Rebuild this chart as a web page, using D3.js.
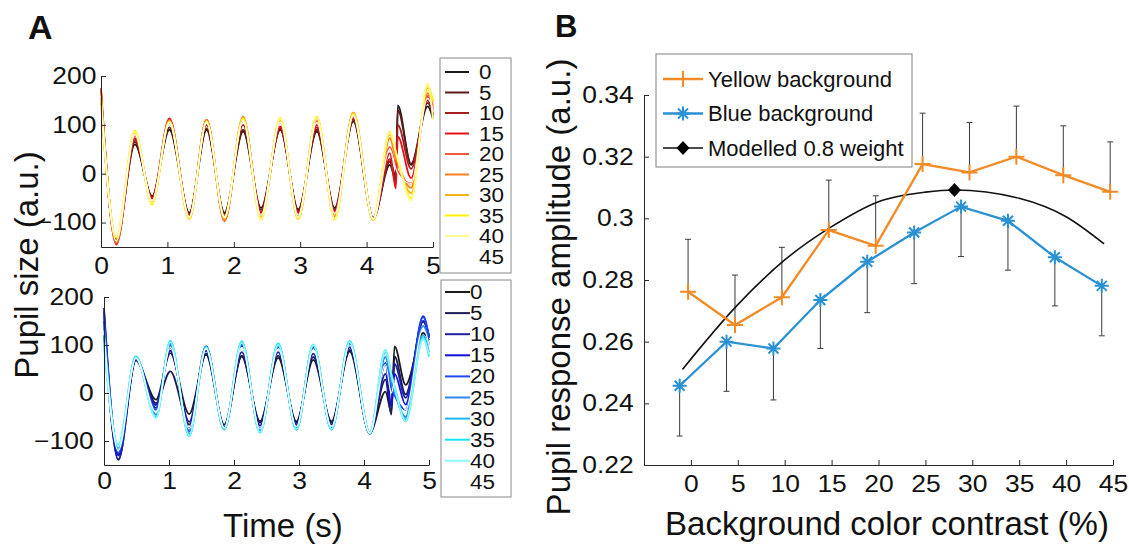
<!DOCTYPE html>
<html>
<head>
<meta charset="utf-8">
<script src="https://cdn.jsdelivr.net/npm/d3@7"></script>
<style>
  body { margin: 0; background: #fff; }
  text { font-family: "Liberation Sans", Arial, Helvetica, sans-serif; fill: #111; }
</style>
</head>
<body>
<svg id="chart" width="1129" height="546"></svg>
<script>
// ---------- data ----------

// contrast levels (legend entries, x ticks of panel B)
var contrasts = [0, 5, 10, 15, 20, 25, 30, 35, 40, 45];

// panel A, yellow background: key points (peaks / troughs) of each trace
var topTimes = [0, 0.23, 0.51, 0.77, 1.03, 1.33, 1.59, 1.86, 2.14, 2.41, 2.70, 2.97, 3.25, 3.52, 3.80, 4.10, 4.35, 4.44, 4.47, 4.67, 4.92, 5.0];
var topCurves = [
  [150, -135, 60, -46, 90, -80, 90, -80, 86, -70, 90, -73, 86, -70, 107, -90, 18, -12, 140, 18, 138, 112],
  [160, -138, 65, -48, 95, -82, 93, -82, 90, -74, 92, -76, 90, -73, 110, -92, 25, -5, 130, 20, 145, 118],
  [165, -140, 70, -50, 105, -84, 100, -86, 100, -78, 95, -78, 95, -76, 112, -92, 30, -20, 100, 10, 150, 122],
  [175, -145, 73, -50, 113, -87, 110, -95, 110, -80, 97, -80, 100, -77, 117, -92, 42, -30, 76, -9, 158, 130],
  [170, -143, 78, -55, 110, -88, 110, -97, 112, -85, 105, -85, 108, -82, 120, -93, 55, 15, 5, -20, 160, 135],
  [165, -140, 83, -58, 108, -92, 110, -95, 117, -88, 110, -92, 114, -88, 125, -94, 73, 30, 20, -29, 165, 140],
  [160, -137, 85, -60, 107, -92, 107, -92, 115, -90, 112, -92, 116, -92, 125, -95, 80, 40, 25, -40, 175, 148],
  [150, -131, 88, -63, 107, -92, 107, -90, 112, -94, 114, -92, 117, -94, 122, -95, 86, 45, 30, -50, 182, 150],
  [140, -128, 85, -60, 105, -90, 105, -88, 110, -92, 112, -90, 115, -92, 120, -93, 84, 45, 30, -55, 185, 110],
  [160, -138, 80, -55, 105, -88, 105, -90, 108, -85, 105, -85, 105, -82, 118, -92, 50, 10, 0, -20, 155, 130]
];
var topColors = ["#1a1a1a", "#5c1a1a", "#a31f24", "#e3121b", "#f25a38", "#f77f1e", "#fcb316", "#fff200", "#fffb8c", "#ffffff"];

// panel A, blue background
var bottomTimes = [0, 0.22, 0.49, 0.80, 1.02, 1.31, 1.57, 1.85, 2.12, 2.40, 2.68, 2.96, 3.22, 3.50, 3.78, 4.09, 4.33, 4.42, 4.47, 4.64, 4.91, 5.0];
var bottomCurves = [
  [120, -128, 69, -14, 83, -44, 80, -66, 76, -59, 73, -59, 69, -59, 87, -83, 3, -40, 97, 17, 125, 110],
  [150, -139, 68, -21, 45, -66, 82, -70, 78, -62, 78, -62, 75, -62, 90, -83, 28, -45, 76, -3, 149, 120],
  [170, -139, 70, -25, 88, -60, 88, -72, 85, -68, 85, -66, 82, -66, 95, -84, 40, -30, 60, -10, 150, 118],
  [177, -130, 72, -31, 95, -75, 97, -72, 98, -75, 95, -70, 95, -72, 100, -84, 62, -25, 40, -24, 160, 115],
  [160, -125, 74, -35, 101, -80, 97, -74, 101, -78, 97, -72, 97, -74, 104, -85, 62, 10, -5, -35, 158, 118],
  [140, -120, 75, -45, 104, -85, 95, -76, 104, -80, 100, -76, 99, -76, 106, -85, 75, 20, 0, -50, 140, 100],
  [120, -115, 76, -50, 107, -88, 95, -76, 106, -82, 102, -76, 100, -76, 108, -85, 85, 35, 10, -55, 120, 85],
  [100, -108, 76, -52, 109, -90, 96, -75, 108, -83, 104, -76, 101, -76, 108, -83, 90, 40, 15, -59, 115, 76],
  [95, -110, 74, -52, 106, -88, 94, -74, 105, -82, 100, -75, 100, -75, 106, -83, 88, 38, 12, -58, 112, 80],
  [130, -120, 72, -40, 95, -75, 92, -72, 95, -75, 92, -70, 90, -70, 100, -84, 60, 0, 20, -35, 135, 100]
];
var bottomColors = ["#1a1a1a", "#1c1c55", "#1f1f9e", "#1010d8", "#1e4bf0", "#2d86e8", "#1fb6f0", "#15e6f6", "#8ff6fb", "#ffffff"];

var timeTicks = [0, 1, 2, 3, 4, 5];
var sizeTicks = [-100, 0, 100, 200];

// panel B
var yellowShift = -0.3;   // points are plotted slightly left of the tick
var blueShift = -1.2;
var yellowAmp = [0.2762, 0.2654, 0.2744, 0.2962, 0.2911, 0.3176, 0.3149, 0.3200, 0.3140, 0.3086];
var yellowErr = [0.0170, 0.0162, 0.0162, 0.0162, 0.0162, 0.0165, 0.0162, 0.0164, 0.0160, 0.0162];
var blueAmp = [0.2457, 0.2600, 0.2578, 0.2735, 0.2859, 0.2954, 0.3038, 0.2992, 0.2874, 0.2781];
var blueErr = [0.0163, 0.0161, 0.0167, 0.0157, 0.0165, 0.0166, 0.0162, 0.0160, 0.0158, 0.0162];
var modelX = [-0.9, 5, 10, 15, 20, 25, 28.1, 35, 40, 44.05];
var modelY = [0.2510, 0.2720, 0.2865, 0.2973, 0.3054, 0.3085, 0.3092, 0.3065, 0.3005, 0.2917];
var modelPeak = [28.1, 0.3092];
var ampTicks = [0.22, 0.24, 0.26, 0.28, 0.30, 0.32, 0.34];
var legendB = ["Yellow background", "Blue background", "Modelled 0.8 weight"];

// ---------- drawing ----------
var svg = d3.select("#chart");
var axisColor = "#262626";
var numStretch = "scale(1.15,1)";

function styleAxis(g) {
  g.select(".domain").attr("stroke", axisColor);
  g.selectAll(".tick line").attr("stroke", axisColor);
  g.selectAll(".tick text")
    .attr("fill", "#111")
    .attr("font-family", "Liberation Sans, Arial, sans-serif")
    .attr("transform", numStretch);
}

function drawPupil(o) {
  var x = d3.scaleLinear().domain([0, 5]).range(o.xr);
  var y = d3.scaleLinear().domain([-150, 200]).range(o.yr);
  var g = svg.append("g");

  var line = d3.line()
    .x(function(d) { return x(d[0]); })
    .y(function(d) { return y(d[1]); })
    .curve(d3.curveMonotoneX);

  o.curves.forEach(function(vals, i) {
    var pts = o.times.map(function(t, j) { return [t, vals[j]]; });
    g.append("path")
      .attr("d", line(pts))
      .attr("fill", "none")
      .attr("stroke", o.colors[i])
      .attr("stroke-width", i == 9 ? 1.1 : 1.8);
  });

  var gx = g.append("g")
    .attr("transform", "translate(0," + o.yr[0] + ")")
    .call(d3.axisBottom(x).tickValues(timeTicks).tickSizeInner(-5).tickSizeOuter(0).tickPadding(o.xpad).tickFormat(d3.format("d")))
    .attr("font-size", 23);
  styleAxis(gx);

  var gy = g.append("g")
    .attr("transform", "translate(" + o.xr[0] + ",0)")
    .call(d3.axisLeft(y).tickValues(sizeTicks).tickSizeInner(-5).tickSizeOuter(0).tickPadding(o.ypad).tickFormat(d3.format("d")))
    .attr("font-size", 23);
  styleAxis(gy);

  // legend
  var lg = g.append("g");
  lg.append("rect")
    .attr("x", o.box[0]).attr("y", o.box[1])
    .attr("width", o.box[2] - o.box[0]).attr("height", o.box[3] - o.box[1])
    .attr("fill", "#fff").attr("stroke", "#888").attr("stroke-width", 1);
  contrasts.forEach(function(c, i) {
    var yy = o.ly0 + i * o.lstep;
    lg.append("line")
      .attr("x1", o.lx[0]).attr("x2", o.lx[1])
      .attr("y1", yy).attr("y2", yy)
      .attr("stroke", o.colors[i]).attr("stroke-width", 2);
    lg.append("text")
      .attr("transform", "translate(" + o.lx[2] + "," + yy + ") " + "scale(1.15,1)")
      .attr("dy", "0.36em")
      .attr("font-size", 19.5)
      .text(c);
  });
}

drawPupil({
  xr: [101, 433], yr: [247, 76], times: topTimes, curves: topCurves, colors: topColors,
  xpad: 11, ypad: 4, box: [440, 58, 511, 273], lx: [445, 469, 479], ly0: 72, lstep: 20.5
});
drawPupil({
  xr: [104, 429], yr: [465, 297], times: bottomTimes, curves: bottomCurves, colors: bottomColors,
  xpad: 8, ypad: 9, box: [441, 280, 511, 497], lx: [445, 470, 470], ly0: 292, lstep: 21.1
});

svg.append("text").attr("x", 283).attr("y", 537).attr("text-anchor", "middle")
  .attr("font-size", 33).text("Time (s)");
svg.append("text").attr("transform", "translate(38,265) rotate(-90)").attr("text-anchor", "middle")
  .attr("font-size", 33).text("Pupil size (a.u.)");
svg.append("text").attr("x", 28).attr("y", 39).attr("font-size", 34).attr("font-weight", "bold").text("A");
svg.append("text").attr("x", 555).attr("y", 37).attr("font-size", 31).attr("font-weight", "bold").text("B");

// ---------- panel B ----------
var xB = d3.scaleLinear().domain([-5, 45]).range([644, 1113]);
var yB = d3.scaleLinear().domain([0.22, 0.34]).range([465, 95]);
var gB = svg.append("g");
var orange = "#f28a26", blue = "#2a91d3";

// error bars: yellow upward, blue downward
function errBars(vals, errs, shift, dir) {
  vals.forEach(function(v, i) {
    var cx = xB(contrasts[i] + shift);
    var y0 = yB(v), y1 = yB(v + dir * errs[i]);
    gB.append("line").attr("x1", cx).attr("x2", cx).attr("y1", y0).attr("y2", y1)
      .attr("stroke", "#3a3a3a").attr("stroke-width", 1);
    gB.append("line").attr("x1", cx - 3).attr("x2", cx + 3).attr("y1", y1).attr("y2", y1)
      .attr("stroke", "#3a3a3a").attr("stroke-width", 1);
  });
}
errBars(yellowAmp, yellowErr, yellowShift, 1);
errBars(blueAmp, blueErr, blueShift, -1);

var lineB = d3.line().x(function(d) { return xB(d[0]); }).y(function(d) { return yB(d[1]); });

gB.append("path")
  .attr("d", lineB.curve(d3.curveMonotoneX)(modelX.map(function(v, i) { return [v, modelY[i]]; })))
  .attr("fill", "none").attr("stroke", "#111").attr("stroke-width", 1.6);

lineB.curve(d3.curveLinear);
gB.append("path")
  .attr("d", lineB(yellowAmp.map(function(v, i) { return [contrasts[i] + yellowShift, v]; })))
  .attr("fill", "none").attr("stroke", orange).attr("stroke-width", 2.3);
gB.append("path")
  .attr("d", lineB(blueAmp.map(function(v, i) { return [contrasts[i] + blueShift, v]; })))
  .attr("fill", "none").attr("stroke", blue).attr("stroke-width", 2.3);

function plusMark(g, cx, cy) {
  g.append("path")
    .attr("d", "M" + (cx - 8) + "," + cy + "H" + (cx + 8) + "M" + cx + "," + (cy - 8) + "V" + (cy + 8))
    .attr("stroke", orange).attr("stroke-width", 2).attr("fill", "none");
}
function starMark(g, cx, cy) {
  var r = 7, d = 5;
  g.append("path")
    .attr("d", "M" + (cx - r) + "," + cy + "H" + (cx + r) + "M" + cx + "," + (cy - r) + "V" + (cy + r) +
      "M" + (cx - d) + "," + (cy - d) + "L" + (cx + d) + "," + (cy + d) +
      "M" + (cx - d) + "," + (cy + d) + "L" + (cx + d) + "," + (cy - d))
    .attr("stroke", blue).attr("stroke-width", 2).attr("fill", "none");
}
function diamondMark(g, cx, cy) {
  g.append("path")
    .attr("d", "M" + cx + "," + (cy - 7) + "L" + (cx + 6.5) + "," + cy + "L" + cx + "," + (cy + 7) + "L" + (cx - 6.5) + "," + cy + "Z")
    .attr("fill", "#000");
}

yellowAmp.forEach(function(v, i) { plusMark(gB, xB(contrasts[i] + yellowShift), yB(v)); });
blueAmp.forEach(function(v, i) { starMark(gB, xB(contrasts[i] + blueShift), yB(v)); });
diamondMark(gB, xB(modelPeak[0]), yB(modelPeak[1]));

var gxB = gB.append("g")
  .attr("transform", "translate(0,465)")
  .call(d3.axisBottom(xB).tickValues(contrasts).tickSizeInner(-5).tickSizeOuter(0).tickPadding(11))
  .attr("font-size", 23);
styleAxis(gxB);
var gyB = gB.append("g")
  .attr("transform", "translate(644,0)")
  .call(d3.axisLeft(yB).tickValues(ampTicks).tickSizeInner(-5).tickSizeOuter(0).tickPadding(9)
    .tickFormat(function(d) { return String(+d.toFixed(2)); }))
  .attr("font-size", 23);
styleAxis(gyB);

// legend B
var lgB = gB.append("g");
lgB.append("rect").attr("x", 656).attr("y", 54).attr("width", 256).attr("height", 113)
  .attr("fill", "#fff").attr("stroke", "#808080").attr("stroke-width", 1);
var legendColors = [orange, blue, "#111"];
var markFns = [plusMark, starMark, diamondMark];
legendB.forEach(function(name, i) {
  var yy = 79 + i * 34.5;
  lgB.append("line").attr("x1", 663).attr("x2", 703).attr("y1", yy).attr("y2", yy)
    .attr("stroke", legendColors[i]).attr("stroke-width", i == 2 ? 1.6 : 2.3);
  markFns[i](lgB, 683, yy);
  lgB.append("text").attr("x", 708).attr("y", yy).attr("dy", "0.36em")
    .attr("font-size", 22).text(name);
});

svg.append("text").attr("x", 887).attr("y", 535).attr("text-anchor", "middle")
  .attr("font-size", 33).text("Background color contrast (%)");
svg.append("text").attr("transform", "translate(570,287) rotate(-90)").attr("text-anchor", "middle")
  .attr("font-size", 33).text("Pupil response amplitude (a.u.)");
</script>
</body>
</html>
